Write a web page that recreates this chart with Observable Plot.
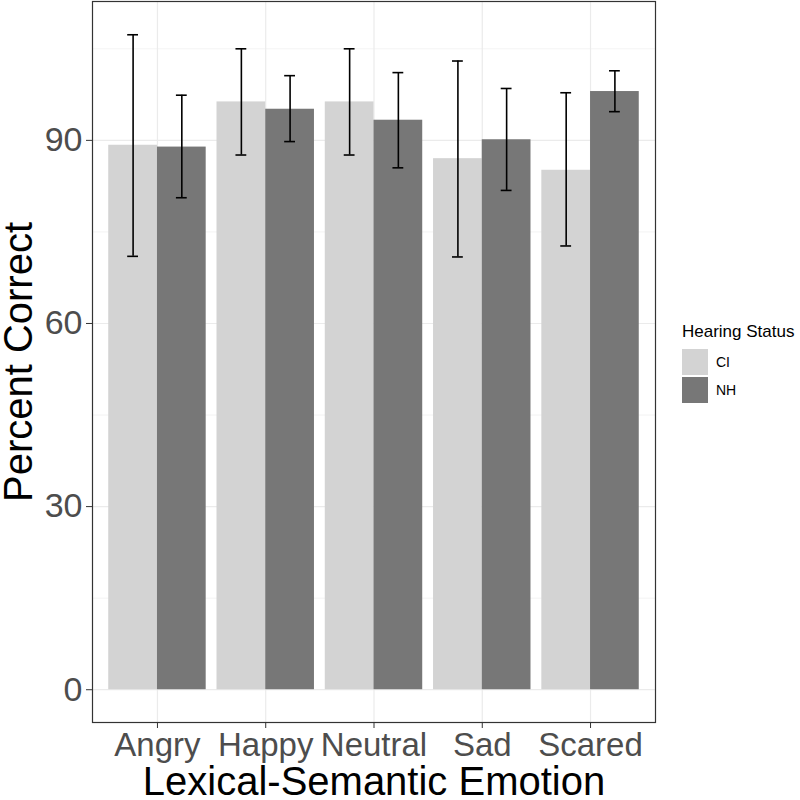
<!DOCTYPE html>
<html>
<head>
<meta charset="utf-8">
<script src="https://cdn.jsdelivr.net/npm/d3@7"></script>
<script src="https://cdn.jsdelivr.net/npm/@observablehq/plot@0.6"></script>
<style>
  html, body { margin: 0; padding: 0; background: #fff; }
  #wrap { position: relative; width: 800px; height: 800px; font-family: "Liberation Sans", Arial, sans-serif; }
  #legend { position: absolute; left: 682px; top: 322px; font-family: "Liberation Sans", Arial, sans-serif; }
  #legend .title { font-size: 17px; color: #000; margin-bottom: 6px; white-space: nowrap; }
  #legend .row { display: flex; align-items: center; height: 28px; }
  #legend .key { width: 26px; height: 26px; }
  #legend .lab { font-size: 14px; margin-left: 8px; color: #000; }
</style>
</head>
<body>
<div id="wrap"></div>
<script>
const emotions = ["Angry", "Happy", "Neutral", "Sad", "Scared"];
const groups = ["CI", "NH"];
const colors = ["#d3d3d3", "#777777"];
const ciMean = [89.2, 96.3, 96.3, 87.0, 85.1];
const ciLow  = [71.0, 87.6, 87.6, 70.9, 72.7];
const ciHigh = [107.3, 105.0, 105.0, 103.0, 97.8];
const nhMean = [88.9, 95.1, 93.3, 90.1, 98.0];
const nhLow  = [80.6, 89.8, 85.5, 81.8, 94.7];
const nhHigh = [97.4, 100.6, 101.1, 98.5, 101.4];
const yMajor = [0, 30, 60, 90];
const yMinor = [15, 45, 75, 105];

const dodge = 0.45;
const rows = [];
emotions.forEach((e, i) => {
  rows.push({emotion: e, status: "CI", pos: i + 1, mean: ciMean[i], lo: ciLow[i], hi: ciHigh[i], side: -1});
  rows.push({emotion: e, status: "NH", pos: i + 1, mean: nhMean[i], lo: nhLow[i], hi: nhHigh[i], side: 0});
});
rows.forEach(r => {
  r.x1 = r.pos + r.side * dodge;
  r.x2 = r.x1 + dodge;
  r.xc = r.x1 + dodge / 2;
});

const font = "Liberation Sans, Arial, sans-serif";
const hasAxis = typeof Plot.axisX === "function";

const marks = [
  Plot.ruleY(yMinor, {stroke: "#ebebeb", strokeWidth: 0.6}),
  Plot.ruleY(yMajor, {stroke: "#ebebeb", strokeWidth: 1.2}),
  Plot.ruleX(emotions.map((e, i) => i + 1), {stroke: "#ebebeb", strokeWidth: 1.2}),
  Plot.rectY(rows, {x1: "x1", x2: "x2", y1: 0, y2: "mean", fill: "status"}),
  Plot.ruleX(rows, {x: "xc", y1: "lo", y2: "hi", stroke: "#000", strokeWidth: 1.6}),
  Plot.ruleY(rows, {y: "lo", x1: d => d.xc - 0.05, x2: d => d.xc + 0.05, stroke: "#000", strokeWidth: 1.6}),
  Plot.ruleY(rows, {y: "hi", x1: d => d.xc - 0.05, x2: d => d.xc + 0.05, stroke: "#000", strokeWidth: 1.6}),
  Plot.frame({stroke: "#333333", strokeWidth: 1.2}),
  Plot.text(["Percent Correct"], {text: d => d, frameAnchor: "left", textAnchor: "middle", lineAnchor: "middle", rotate: -90, dx: -73, fontSize: 40, fill: "#000", fontFamily: font}),
  Plot.text(["Lexical-Semantic Emotion"], {text: d => d, frameAnchor: "bottom", textAnchor: "middle", lineAnchor: "middle", dy: 60, fontSize: 40, fill: "#000", fontFamily: font})
];
if (hasAxis) {
  marks.push(Plot.axisY({ticks: yMajor, tickSize: 6, tickPadding: 4, stroke: "#333333", fill: "#4d4d4d", fontSize: 34, label: null, fontFamily: font}));
  marks.push(Plot.axisX({ticks: emotions.map((e, i) => i + 1), tickFormat: v => emotions[v - 1], tickSize: 6, tickPadding: 4, stroke: "#333333", fill: "#4d4d4d", fontSize: 33, label: null, fontFamily: font}));
}

const chart = Plot.plot({
  width: 800,
  height: 800,
  marginLeft: 92,
  marginRight: 145,
  marginTop: 1,
  marginBottom: 78,
  style: {fontFamily: font, background: "#fff"},
  x: {domain: [0.4, 5.6], axis: hasAxis ? null : "bottom", ticks: emotions.map((e, i) => i + 1), tickFormat: v => emotions[v - 1], label: null},
  y: {domain: [-5.37, 112.75], axis: hasAxis ? null : "left", ticks: yMajor, label: null},
  color: {domain: groups, range: colors},
  marks
});
document.getElementById("wrap").appendChild(chart);

const legend = document.createElement("div");
legend.id = "legend";
let html = '<div class="title">Hearing Status</div>';
groups.forEach((g, i) => {
  html += `<div class="row"><div class="key" style="background:${colors[i]}"></div><div class="lab">${g}</div></div>`;
});
legend.innerHTML = html;
document.getElementById("wrap").appendChild(legend);
</script>
</body>
</html>
